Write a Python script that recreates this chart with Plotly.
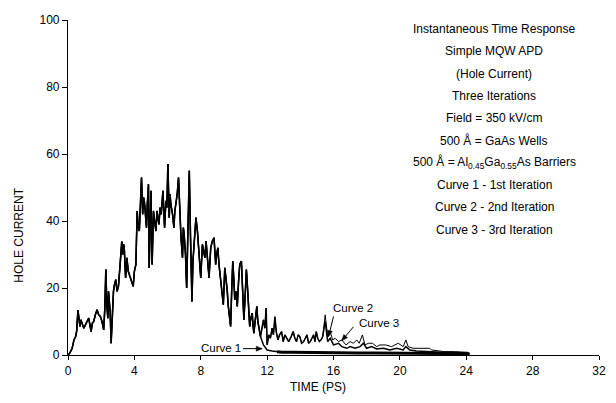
import math
import plotly.graph_objects as go

# Shared early response (all three iterations coincide), time in ps
t_shared = [0.0, 0.1, 0.25, 0.36, 0.46, 0.52, 0.6, 0.66, 0.72, 0.78, 0.85, 0.95, 1.05,
            1.15, 1.25, 1.32, 1.39, 1.47, 1.55, 1.65, 1.75, 1.85, 1.95, 2.05, 2.15,
            2.22, 2.28, 2.34, 2.4, 2.44, 2.48, 2.54, 2.6, 2.66, 2.74, 2.8, 2.88, 2.96,
            3.04, 3.14, 3.24, 3.3, 3.36, 3.4, 3.47, 3.55, 3.63, 3.73, 3.82, 3.93, 4.0,
            4.09, 4.17, 4.23, 4.3, 4.36, 4.43, 4.5, 4.55, 4.6, 4.66, 4.73, 4.78, 4.85,
            4.89, 4.95, 5.0, 5.07, 5.11, 5.15, 5.22, 5.3, 5.36, 5.42, 5.48, 5.55, 5.62,
            5.72, 5.77, 5.82, 5.9, 5.96, 6.02, 6.06, 6.1, 6.15, 6.2, 6.3, 6.38, 6.44,
            6.5, 6.58, 6.66, 6.72, 6.81, 6.9, 6.95, 7.0, 7.08, 7.15, 7.22, 7.31, 7.38,
            7.47, 7.53, 7.6, 7.71, 7.8, 7.9, 8.0, 8.1, 8.18, 8.25, 8.32, 8.4, 8.5, 8.6,
            8.7, 8.8, 8.9, 8.96, 9.03, 9.1, 9.2, 9.28, 9.36, 9.45, 9.55, 9.6, 9.65,
            9.72, 9.8, 9.87, 9.93, 10.0, 10.05, 10.12, 10.2, 10.28, 10.35, 10.45, 10.52,
            10.6, 10.68, 10.75, 10.82, 10.9, 10.95, 11.02, 11.1, 11.15, 11.2, 11.3,
            11.38, 11.44, 11.5, 11.6]
v_shared = [0, 0.5, 2, 4.5, 5.5, 7, 13.4, 10, 8.5, 10.5, 9.5, 8, 9,
            10, 11, 9, 7, 9.5, 10, 12, 13.5, 12, 11.5, 10, 7.5,
            14, 25.5, 15, 11, 19, 17, 13, 3.5, 12, 19, 21, 22.5, 19,
            20.5, 27, 33.9, 30, 33, 31, 23, 29, 25, 23.5, 22, 20.5, 25,
            27, 43, 38, 37, 45, 53, 42, 47, 46, 41, 38, 45, 51,
            26, 40, 49, 27, 36, 43, 40, 37, 43, 41, 39, 44, 42,
            49, 43, 38, 46, 44, 57, 47, 41, 48, 45, 42, 38, 43,
            45, 48, 53, 44, 35, 29, 38, 36, 30, 20, 38, 55, 36,
            16, 28, 34, 41, 37, 30, 23, 33, 31, 29, 34, 30, 23, 32,
            34, 35, 27, 30, 32, 27, 23, 20, 15, 26, 22, 19, 15,
            12, 8.5, 20, 28, 22, 16.5, 19, 14.5, 22, 27, 28, 18,
            10.5, 18, 25.5, 20, 14, 8.5, 11, 12.5, 9, 6.5, 11,
            14.5, 10, 8, 5.5]

# Curve 1 (1st iteration) late tail
t_tail1 = [11.78, 12.0, 12.3, 12.6, 12.9, 13.5, 14.5, 15.5, 16.5, 17.5, 18.5,
           19.5, 20.5, 21.5, 22.5, 23.5, 24.2]
v_tail1 = [3, 1.5, 1.2, 1.0, 0.8, 0.8, 0.7, 0.7, 0.7, 0.6, 0.6,
           0.6, 0.6, 0.5, 0.5, 0.5, 0.4]

# Tail common to curves 2 and 3 up to 15.35 ps
t_tail23 = [11.78, 11.86, 11.94, 12.0, 12.1, 12.2, 12.3, 12.38, 12.47, 12.55, 12.65,
            12.75, 12.87, 12.97, 13.07, 13.18, 13.3, 13.45, 13.57, 13.67, 13.77,
            13.87, 13.97, 14.08, 14.2, 14.3, 14.4, 14.5, 14.6, 14.7, 14.8, 14.88,
            14.96, 15.05, 15.15, 15.25, 15.35]
v_tail23 = [10.5, 8, 14, 3, 6, 5, 8, 6, 11.4, 7, 4.5,
            6, 7, 4, 6, 5, 4, 5.5, 7, 5, 4,
            6, 5.5, 3.5, 4, 5, 6, 3.5, 4, 5, 6, 4,
            7, 5, 4, 4.5, 5.5]

# Curve 2 (2nd iteration) beyond 15.35 ps
t_tail2 = [15.5, 15.65, 15.8, 15.95, 16.1, 16.3, 16.5, 16.75, 17.0, 17.2, 17.4,
           17.55, 17.74, 17.9, 18.1, 18.35, 18.6, 18.8, 19.15, 19.5, 19.9, 20.2,
           20.36, 20.5, 20.8, 21.1, 21.5, 21.8, 21.9, 22.3, 22.7, 23.3, 23.9, 24.1]
v_tail2 = [12, 5.5, 7, 4.5, 5, 4, 4.5, 3, 4, 3.5, 4.5,
           3.5, 6, 3, 3.5, 3.5, 2.5, 3, 3, 2.5, 3.5, 2.5,
           4.5, 2.5, 2, 2, 1.8, 2, 1.5, 1.2, 1, 1, 1, 0.8]

# Curve 3 (3rd iteration) beyond 15.35 ps
t_tail3 = [15.5, 15.65, 15.8, 16.0, 16.3, 16.5, 16.8, 17.0, 17.3, 17.6, 17.8,
           18.0, 18.3, 18.6, 19.0, 19.4, 19.8, 20.2, 20.36, 20.6, 21.0, 21.5,
           22.0, 22.5, 23.0, 23.5, 24.0]
v_tail3 = [10, 4, 5, 3, 3.5, 2.5, 2, 2.5, 2, 2.5, 3.5,
           2, 2.5, 1.8, 2, 1.5, 2, 1.5, 2.5, 1.5, 1.2, 1,
           1, 0.8, 0.8, 0.7, 0.6]

x_ticks = [0, 4, 8, 12, 16, 20, 24, 28, 32]
y_ticks = [0, 20, 40, 60, 80, 100]

info_lines = [
    "Instantaneous Time Response",
    "Simple MQW APD",
    "(Hole Current)",
    "Three Iterations",
    "Field = 350 kV/cm",
    "500 Å = GaAs Wells",
    "500 Å = Al<sub>0.45</sub>Ga<sub>0.55</sub>As Barriers",
    "Curve 1 - 1st Iteration",
    "Curve 2 - 2nd Iteration",
    "Curve 3 - 3rd Iteration",
]

FONT = "Liberation Sans, Arial, Helvetica, sans-serif"

# Plot-area geometry in pixels
L, R, T, B = 68, 10, 20, 48
W, H = 616, 403
PW, PH = W - L - R, H - T - B
X_RANGE, Y_RANGE = (0, 32), (0, 100)
SX = PW / (X_RANGE[1] - X_RANGE[0])
SY = PH / (Y_RANGE[1] - Y_RANGE[0])

fig = go.Figure()

fig.add_trace(go.Scatter(x=t_shared + t_tail23 + t_tail3, y=v_shared + v_tail23 + v_tail3,
                         mode="lines", line=dict(color="black", width=1.5), name="Curve 3"))
fig.add_trace(go.Scatter(x=t_shared + t_tail23 + t_tail2, y=v_shared + v_tail23 + v_tail2,
                         mode="lines", line=dict(color="black", width=1.0), name="Curve 2"))
fig.add_trace(go.Scatter(x=t_shared + t_tail1, y=v_shared + v_tail1,
                         mode="lines", line=dict(color="black", width=1.5), name="Curve 1"))
fig.add_trace(go.Scatter(x=t_tail1[3:], y=v_tail1[3:],
                         mode="lines", line=dict(color="black", width=3), showlegend=False))

annotations = []
y0 = 29
for i, line in enumerate(info_lines):
    annotations.append(dict(
        text=line, xref="paper", yref="paper",
        x=(500 - L) / PW, y=1 - (y0 + i * 22.3 - T) / PH,
        showarrow=False, xanchor="center", yanchor="middle",
        font=dict(family=FONT, size=12, color="black")))

# Curve labels
for label, tx, ty in [("Curve 1", 223, 348), ("Curve 2", 357, 308), ("Curve 3", 383, 323)]:
    annotations.append(dict(text=label, xref="paper", yref="paper",
                            x=(tx - L) / PW, y=1 - (ty - T) / PH, showarrow=False,
                            xanchor="center", yanchor="middle",
                            font=dict(family=FONT, size=11.5, color="black")))

# Pointer arrows drawn as shapes: (head x, head y, tail x, tail y) in data units
shapes = []
for hx, hy, tx, ty in [(11.7, 1.9, 10.55, 1.9), (15.7, 5.5, 16.0, 11.5), (16.5, 4.3, 17.2, 8.4)]:
    shapes.append(dict(type="line", xref="x", yref="y", x0=tx, y0=ty, x1=hx, y1=hy,
                       line=dict(color="black", width=1)))
    dxp, dyp = (hx - tx) * SX, (hy - ty) * SY
    n = math.hypot(dxp, dyp)
    ux, uy = dxp / n, dyp / n
    head_len, head_w = 6.0, 2.5
    bx, by = -ux * head_len, -uy * head_len
    px, py = -uy * head_w, ux * head_w
    pts = [(hx, hy),
           (hx + (bx + px) / SX, hy + (by + py) / SY),
           (hx + (bx - px) / SX, hy + (by - py) / SY)]
    path = "M {} {} L {} {} L {} {} Z".format(*[c for p in pts for c in p])
    shapes.append(dict(type="path", xref="x", yref="y", path=path,
                       fillcolor="black", line=dict(color="black", width=0.5)))

# Axis titles
annotations.append(dict(text="TIME (PS)", xref="paper", yref="paper",
                        x=(321 - L) / PW, y=1 - (387 - T) / PH, showarrow=False,
                        xanchor="center", yanchor="middle",
                        font=dict(family=FONT, size=12, color="black")))
annotations.append(dict(text="HOLE CURRENT", xref="paper", yref="paper",
                        x=(18 - L) / PW, y=1 - (235 - T) / PH, showarrow=False,
                        textangle=-90, xanchor="center", yanchor="middle",
                        font=dict(family=FONT, size=12, color="black")))

fig.update_layout(
    width=W, height=H,
    margin=dict(l=L, r=R, t=T, b=B),
    paper_bgcolor="white", plot_bgcolor="white",
    showlegend=False,
    annotations=annotations,
    shapes=shapes,
    font=dict(family=FONT, size=12, color="black"),
)
fig.update_xaxes(range=list(X_RANGE), tickvals=x_ticks, ticktext=[str(v) for v in x_ticks],
                 showgrid=False, zeroline=False, showline=True, linecolor="black",
                 linewidth=1.2, ticks="outside", ticklen=4, tickcolor="black",
                 tickfont=dict(family=FONT, size=12, color="black"))
fig.update_yaxes(range=list(Y_RANGE), tickvals=y_ticks, ticktext=[str(v) for v in y_ticks],
                 showgrid=False, zeroline=False, showline=True, linecolor="black",
                 linewidth=1.2, ticks="outside", ticklen=5, tickcolor="black",
                 tickfont=dict(family=FONT, size=12, color="black"))

fig.write_html("out.html")
